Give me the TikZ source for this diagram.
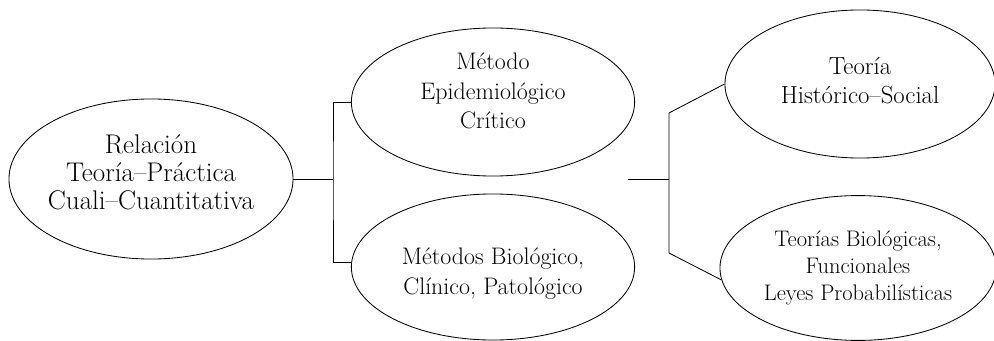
\documentclass[tikz,border=0pt]{standalone}
\usetikzlibrary{shapes.geometric}
\begin{document}
\begin{tikzpicture}[x=0.025cm, y=-0.025cm,
  % common options for the ellipses:
  oval/.style = {ellipse, draw, align=center, inner sep=0, line width=0.6pt},
  % common options for the lines:
  link/.style = {line width=0.6pt}]
\useasboundingbox (0,0) rectangle (994,341);
\node[oval,inner xsep=-3pt,minimum width=7.1cm,minimum height=4.0cm,font=\fontsize{19.2}{20}\selectfont] (rel) at (151,179) {Relación\\Teoría–Práctica\\Cuali–Cuantitativa\rule[-10pt]{0pt}{0pt}};
\node[oval,minimum width=7.08cm,minimum height=3.7cm,font=\fontsize{17}{21}\selectfont] (metodo) at (493,102) {Método\\Epidemiológico\\Crítico\rule[-16pt]{0pt}{0pt}};
\node[oval,minimum width=7.08cm,minimum height=3.65cm,font=\fontsize{17}{21}\selectfont] (metodos) at (493,267) {\rule{0pt}{21pt}Métodos Biológico,\\Clínico, Patológico};
\node[oval,minimum width=6.75cm,minimum height=3.7cm,font=\fontsize{17.6}{20.5}\selectfont] (teoria) at (860,84) {Teoría\\Histórico–Social\rule[-5pt]{0pt}{0pt}};
\node[oval,minimum width=6.9cm,minimum height=3.62cm,font=\fontsize{16}{19}\selectfont] (teorias) at (858,268) {Teorías Biológicas,\\Funcionales\\Leyes Probabilísticas};
\coordinate (lb) at (333,179);
\coordinate (mr) at (628,179);
\coordinate (rb) at (669,179);
\coordinate (rt) at (669,113);
\coordinate (rbot) at (669,253);
\draw[link] (rel.east) to (lb);
\draw[link] (metodo.west) -| (lb) |- (metodos.178);
\draw[link] (mr) to (rb);
\draw[link] (teoria.west) -- (rt) -- (rbot) -- (teorias.185);
\end{tikzpicture}
\end{document}
